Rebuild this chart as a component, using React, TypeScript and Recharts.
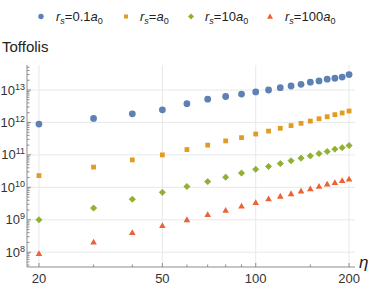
import { ScatterChart, Scatter, XAxis, YAxis, ReferenceLine, Label } from "recharts";

const eta = [20, 30, 40, 50, 60, 70, 80, 90, 100, 110, 120, 130, 140, 150, 160, 170, 180, 190, 200];

const rs01 = [8.9e11, 1.33e12, 1.85e12, 2.45e12, 3.8e12, 5.2e12, 6.3e12, 7.5e12, 8.7e12, 1.0e13, 1.18e13, 1.33e13, 1.5e13, 1.74e13, 1.9e13, 2.15e13, 2.3e13, 2.5e13, 3.0e13];
const rs1 = [2.3e10, 4.2e10, 7e10, 1.0e11, 1.46e11, 2.0e11, 2.7e11, 3.4e11, 4.4e11, 5.4e11, 6.6e11, 8e11, 9.4e11, 1.1e12, 1.3e12, 1.5e12, 1.74e12, 1.96e12, 2.25e12];
const rs10 = [1.0e9, 2.3e9, 4.3e9, 7e9, 1.06e10, 1.5e10, 2.05e10, 2.75e10, 3.6e10, 4.4e10, 5.4e10, 6.6e10, 7.9e10, 9.3e10, 1.1e11, 1.27e11, 1.5e11, 1.67e11, 1.94e11];
const rs100 = [9e7, 2.05e8, 4e8, 6.6e8, 1.0e9, 1.45e9, 1.95e9, 2.65e9, 3.4e9, 4.4e9, 5.3e9, 6.35e9, 7.6e9, 9e9, 1.07e10, 1.26e10, 1.4e10, 1.6e10, 1.78e10];

const xMajor = [20, 50, 100, 200];
const xMinor = [30, 40, 60, 70, 80, 90, 150];
const yMajor = [1e8, 1e9, 1e10, 1e11, 1e12, 1e13];
const yMinorMult = [2, 3, 4, 5, 6, 7, 8, 9];

const FONT = "'Liberation Sans', Arial, sans-serif";
const AXIS = "#8c8c8c";
const GRID = "#e8e8e8";
const TEXT = "#333";

const BLUE = "#5E81B5";
const ORANGE = "#E19C24";
const GREEN = "#8FB032";
const RED = "#EB6235";

const yMinor: number[] = [];
[1e7, ...yMajor].forEach((d) =>
  yMinorMult.forEach((m) => {
    const v = d * m;
    if (v > 3.5e7 && v < 5.9e13) yMinor.push(v);
  })
);

const xTicks = [...xMajor, ...xMinor].sort((a, b) => a - b);
const yTicks = [...yMajor, ...yMinor].sort((a, b) => a - b);

const rows = (vals: number[]) => eta.map((e, i) => ({ eta: e, v: vals[i] }));

function XTick(props: any) {
  const { x, y, payload } = props;
  const major = xMajor.includes(payload.value);
  return (
    <g>
      <line x1={x} x2={x} y1={y} y2={y - (major ? 4 : 2.5)} stroke={AXIS} />
      {major && (
        <text x={x} y={y + 16} textAnchor="middle" fontSize={13} fontFamily={FONT} fill={TEXT}>
          {payload.value}
        </text>
      )}
    </g>
  );
}

function YTick(props: any) {
  const { x, y, payload } = props;
  const major = yMajor.some((m) => Math.abs(m - payload.value) / m < 1e-6);
  const exp = Math.round(Math.log10(payload.value));
  return (
    <g>
      <line x1={x} x2={x + (major ? 4 : 2.5)} y1={y} y2={y} stroke={AXIS} />
      {major && (
        <text x={x - 2} y={y + 4.5} textAnchor="end" fontSize={13} fontFamily={FONT} fill={TEXT}>
          <tspan>10</tspan>
          <tspan dy={-5} fontSize={9}>{exp}</tspan>
        </text>
      )}
    </g>
  );
}

const circle = (p: any) => <circle cx={p.cx} cy={p.cy} r={3.4} fill={BLUE} />;
const square = (p: any) => <rect x={p.cx - 2.4} y={p.cy - 2.4} width={4.8} height={4.8} fill={ORANGE} />;
const diamond = (p: any) => (
  <polygon
    points={`${p.cx},${p.cy - 3.1} ${p.cx + 3.1},${p.cy} ${p.cx},${p.cy + 3.1} ${p.cx - 3.1},${p.cy}`}
    fill={GREEN}
    stroke={GREEN}
    strokeWidth={0.8}
    strokeLinejoin="round"
  />
);
const triangle = (p: any) => (
  <polygon points={`${p.cx},${p.cy - 3.4} ${p.cx + 3.3},${p.cy + 2.4} ${p.cx - 3.3},${p.cy + 2.4}`} fill={RED} />
);

function LegendMarker({ kind, x, y }: { kind: string; x: number; y: number }) {
  if (kind === "circle") return <circle cx={x} cy={y} r={2.7} fill={BLUE} />;
  if (kind === "square") return <rect x={x - 2} y={y - 2} width={4} height={4} fill={ORANGE} />;
  if (kind === "diamond") return <polygon points={`${x},${y - 3} ${x + 3},${y} ${x},${y + 3} ${x - 3},${y}`} fill={GREEN} />;
  return <polygon points={`${x},${y - 3} ${x + 3},${y + 2.3} ${x - 3},${y + 2.3}`} fill={RED} />;
}

const legendItems = [
  { kind: "circle", coef: "0.1", mx: 41, tx: 56 },
  { kind: "square", coef: "", mx: 126, tx: 140 },
  { kind: "diamond", coef: "10", mx: 191, tx: 205 },
  { kind: "triangle", coef: "100", mx: 270, tx: 285 },
];

export default function App() {
  return (
    <div style={{ position: "absolute", left: 0, top: 0, width: 374, height: 289, background: "#fff" }}>
      <svg width={374} height={30} style={{ position: "absolute", left: 0, top: 0 }}>
        {legendItems.map((it, i) => (
          <g key={i}>
            <LegendMarker kind={it.kind} x={it.mx} y={16.5} />
            <text x={it.tx} y={21} fontFamily={FONT} fontSize={13} fill="#222">
              <tspan fontStyle="italic">r</tspan>
              <tspan fontStyle="italic" fontSize={9} dy={3}>s</tspan>
              <tspan dy={-3}>={it.coef}</tspan>
              <tspan fontStyle="italic">a</tspan>
              <tspan fontSize={9} dy={3}>0</tspan>
            </text>
          </g>
        ))}
      </svg>
      <div style={{ position: "absolute", left: 2, top: 38, fontFamily: FONT, fontSize: 15, color: "#222" }}>
        Toffolis
      </div>
      <ScatterChart width={374} height={289} margin={{ top: 65, right: 19, bottom: 0, left: 0 }}>
        <XAxis
          dataKey="eta"
          type="number"
          scale="log"
          domain={[18.3, 209]}
          allowDataOverflow
          ticks={xTicks}
          interval={0}
          tick={<XTick />}
          tickSize={0}
          tickMargin={0}
          tickLine={false}
          height={22}
          stroke={AXIS}
        >
          <Label
            content={(p: any) => (
              <text
                x={p.viewBox.x + p.viewBox.width + 4}
                y={p.viewBox.y + 1}
                fontSize={17}
                fontStyle="italic"
                fontFamily={FONT}
                fill="#222"
              >
                η
              </text>
            )}
          />
        </XAxis>
        <YAxis
          dataKey="v"
          type="number"
          scale="log"
          domain={[3.5e7, 5.9e13]}
          allowDataOverflow
          ticks={yTicks}
          interval={0}
          tick={<YTick />}
          tickSize={0}
          tickMargin={0}
          tickLine={false}
          width={27}
          stroke={AXIS}
        />
        {xMajor.map((x) => (
          <ReferenceLine key={"x" + x} x={x} stroke={GRID} />
        ))}
        {yMajor.map((y) => (
          <ReferenceLine key={"y" + y} y={y} stroke={GRID} />
        ))}
        <Scatter data={rows(rs01)} shape={circle} isAnimationActive={false} />
        <Scatter data={rows(rs1)} shape={square} isAnimationActive={false} />
        <Scatter data={rows(rs10)} shape={diamond} isAnimationActive={false} />
        <Scatter data={rows(rs100)} shape={triangle} isAnimationActive={false} />
      </ScatterChart>
    </div>
  );
}
